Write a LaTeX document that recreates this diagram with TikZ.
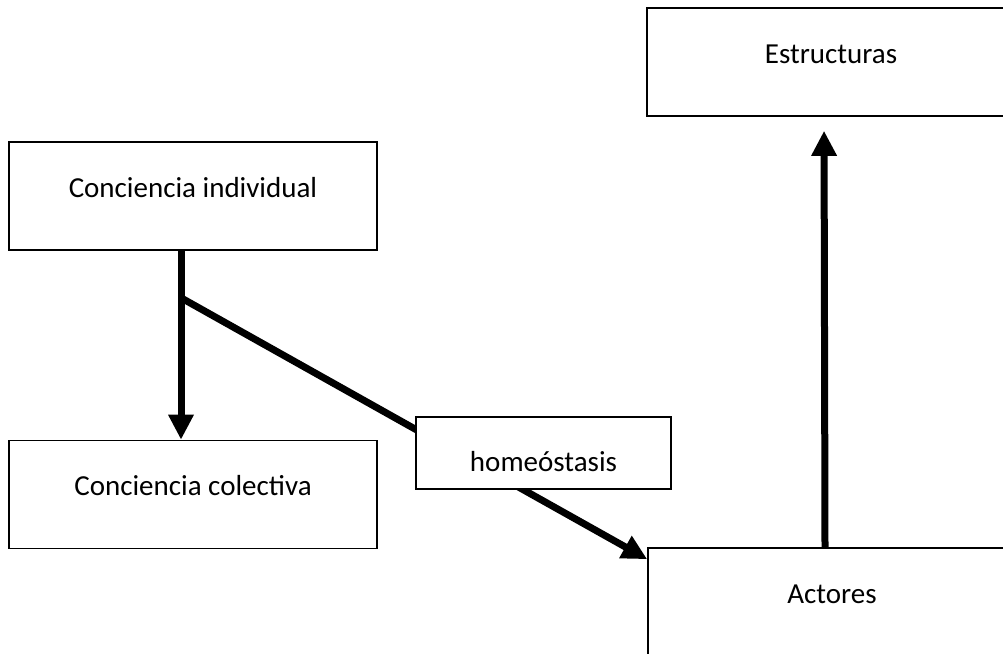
\documentclass[tikz,border=0pt]{standalone}
\usepackage{fontspec}
\setmainfont{Carlito}
\usepackage{tikz}
\usetikzlibrary{positioning,arrows.meta}
\tikzset{>={Triangle[length=25pt,width=24pt]},
box/.style={rectangle,draw,line width=1.6pt,inner sep=0pt,
	minimum width=368pt,text height=55pt,text depth=53pt,
	font=\fontsize{29}{34}\selectfont},
smallbox/.style={box,minimum width=255pt,text height=54pt,text depth=18pt,fill=white},
arr/.style={->,line width=7pt},
}
\begin{document}
\begin{tikzpicture}[x=1pt,y=-1pt]
	\useasboundingbox (0,0) rectangle (1003,653);

	\node[box] (ind) at (193,196) {Conciencia individual};
	\node[box] (col) at (193,494.5) {Conciencia colectiva};
	\node[box] (estr) at (831,62) {Estructuras};
	\node[box] (act) at (832,602) {Actores};

	\coordinate (br) at ([xshift=-12pt,yshift=-47pt]ind.south);

	\path
	([xshift=-12pt]ind.south) edge[arr] ([xshift=-12pt]col.north)
	([xshift=-7pt]act.north) edge[arr,shorten >=14pt] ([xshift=-7pt]estr.south)
	(br) edge[arr] ([yshift=-12pt]act.north west)
	;

	\node[smallbox] (homeo) at (543.5,453) {homeóstasis};
\end{tikzpicture}
\end{document}
